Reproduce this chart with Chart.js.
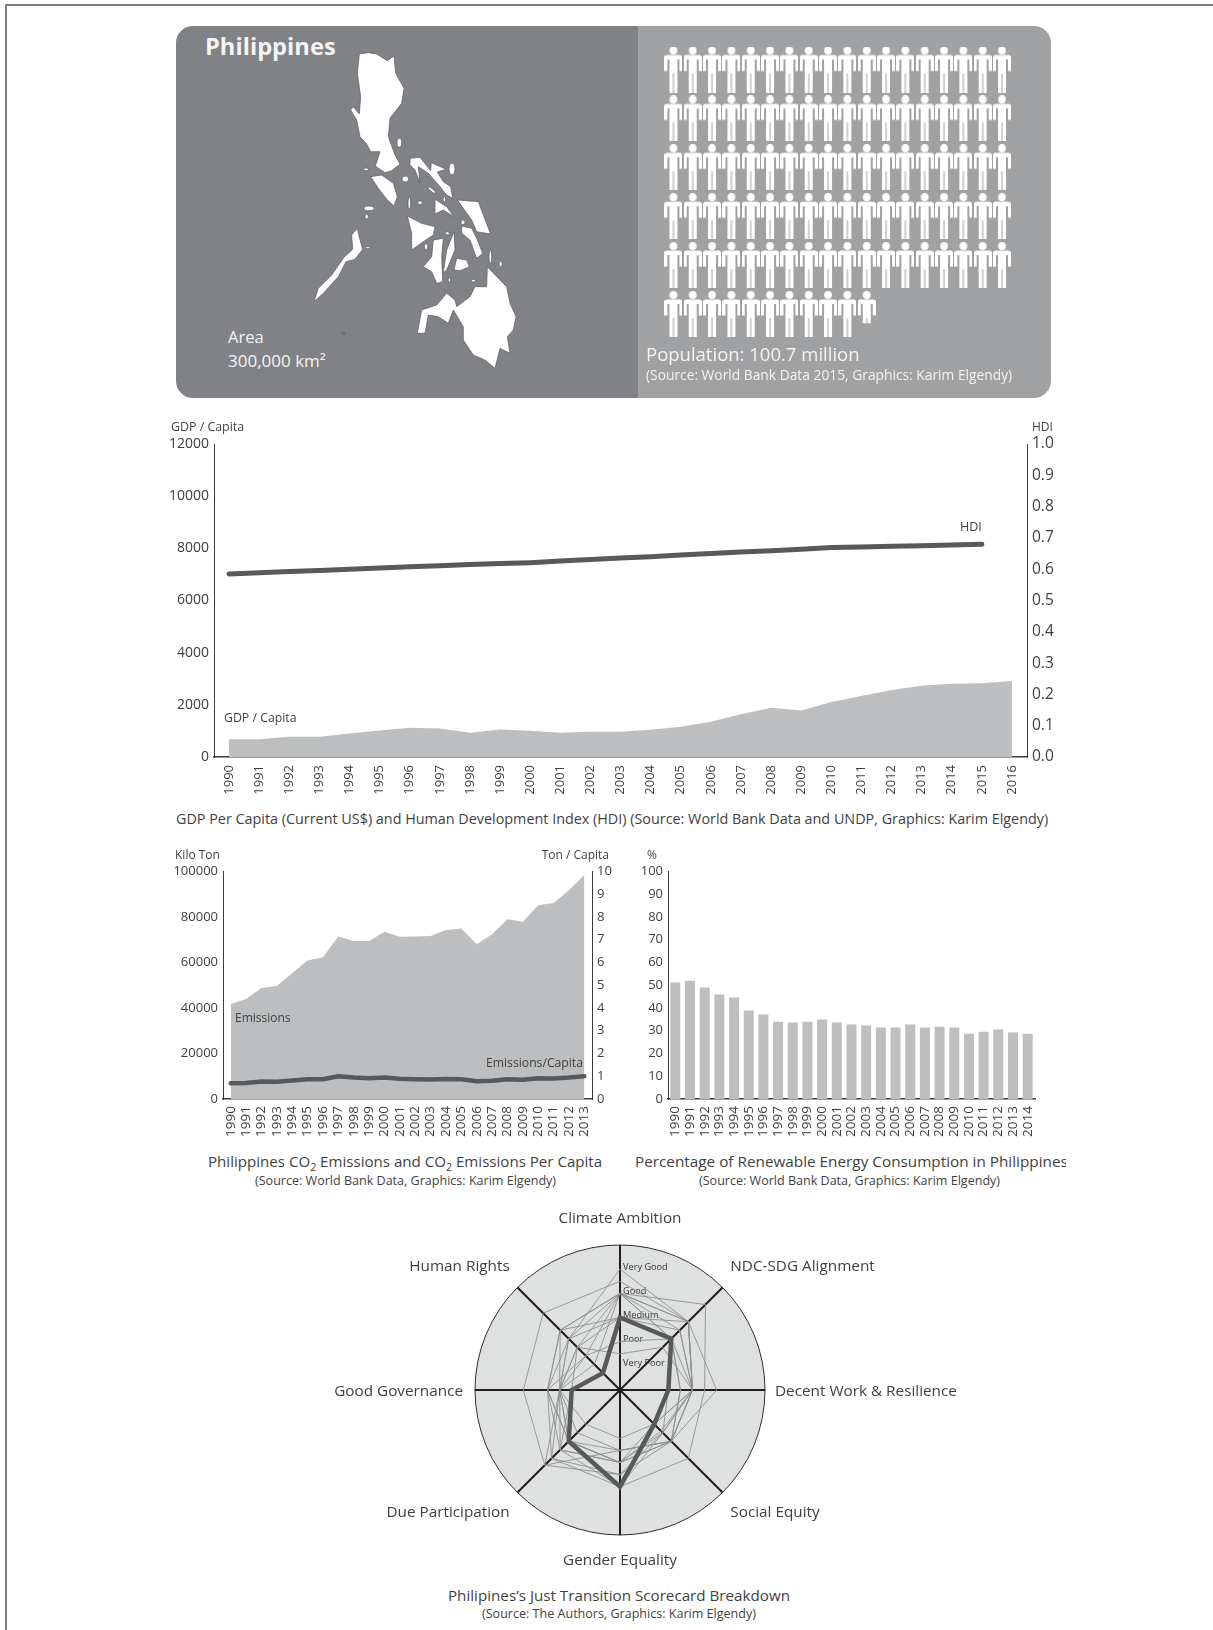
<!DOCTYPE html>
<html><head><meta charset="utf-8">
<script src="https://cdn.jsdelivr.net/npm/chart.js@4/dist/chart.umd.min.js"></script>
<style>
html,body{margin:0;padding:0;background:#fff}
#page{position:relative;width:1213px;height:1630px;overflow:hidden;font-family:"Open Sans",sans-serif;color:#3f3f3f}
.t{position:absolute;white-space:nowrap;line-height:1}
.c{transform:translateX(-50%)}
.r{transform:translateX(-100%)}
.box{position:absolute}
canvas{display:block}
#frameT{position:absolute;left:5px;top:4px;width:1208px;height:1.5px;background:#7d7d7d}
#frameL{position:absolute;left:5px;top:4px;width:1.5px;height:1626px;background:#7d7d7d}
#pL{position:absolute;left:176px;top:26px;width:462px;height:372px;background:#808285;border-radius:17px 0 0 17px}
#pR{position:absolute;left:638px;top:26px;width:413px;height:372px;background:#a0a1a3;border-radius:0 17px 17px 0}
.w{color:#f4f4f4}
sub{font-size:.7em;line-height:0}
</style></head><body><div id="page">
<div id="frameT"></div><div id="frameL"></div>
<div id="pL"></div><div id="pR"></div>
<svg style="position:absolute;left:300px;top:40px" width="220" height="340" viewBox="0 0 660 1020">
<g fill="#fff" stroke="#55565a" stroke-width="2" stroke-linejoin="round">
<path d="M178,42 L205,38 L230,42 L262,62 L282,48 L287,100 L312,145 L305,190 L270,235 L265,290 L285,345 L300,372 L275,392 L255,398 L226,378 L240,335 L212,335 L200,312 L180,290 L170,240 L152,210 L160,200 L178,222 L182,170 L172,100 Z"/>
<path d="M330,355 L360,352 L392,392 L394,368 L438,388 L412,396 L430,425 L452,440 L458,475 L440,465 L420,440 L385,400 L355,380 L360,428 L345,390 L330,375 Z"/>
<path d="M212,410 L245,405 L280,430 L292,470 L282,498 L262,480 L235,445 Z"/>
<path d="M472,480 L535,485 L548,520 L572,582 L530,575 L515,540 L490,505 Z"/>
<path d="M485,558 L515,565 L530,595 L548,640 L530,655 L510,600 L485,580 Z"/>
<path d="M322,528 L365,550 L405,560 L400,585 L370,605 L335,630 L335,580 Z"/>
<path d="M400,600 L430,595 L425,650 L428,725 L410,730 L395,695 L370,680 L395,650 Z"/>
<path d="M462,575 L465,630 L440,690 L430,698 L440,630 Z"/>
<path d="M470,655 L500,660 L508,680 L480,692 L462,690 Z"/>
<path d="M405,478 L440,500 L462,530 L430,510 L405,522 Z"/>
<path d="M172,565 L180,600 L188,628 L165,658 L138,665 L115,710 L70,760 L42,785 L55,745 L95,705 L132,652 L158,628 L155,585 Z"/>
<path d="M562,680 L595,715 L620,740 L630,790 L648,830 L640,870 L622,890 L630,940 L600,925 L585,985 L555,960 L520,945 L490,900 L490,860 L460,810 L445,850 L415,830 L385,825 L375,880 L352,880 L365,810 L410,795 L440,760 L465,780 L470,800 L510,770 L525,740 L560,740 Z"/>
<ellipse cx="316" cy="417" rx="10" ry="9"/><ellipse cx="456" cy="387" rx="9" ry="18"/>
<ellipse cx="198" cy="388" rx="7" ry="4"/><ellipse cx="298" cy="308" rx="7" ry="13"/>
<ellipse cx="395" cy="450" rx="14" ry="4" transform="rotate(40 395 450)"/><ellipse cx="360" cy="488" rx="7" ry="6"/>
<ellipse cx="328" cy="490" rx="4" ry="18"/><ellipse cx="207" cy="505" rx="15" ry="7"/>
<ellipse cx="200" cy="530" rx="5" ry="7"/><ellipse cx="442" cy="580" rx="6" ry="5"/>
<ellipse cx="378" cy="620" rx="5" ry="9"/><ellipse cx="489" cy="547" rx="6" ry="7"/>
<ellipse cx="571" cy="650" rx="4" ry="20"/><ellipse cx="602" cy="672" rx="5" ry="8"/>
<ellipse cx="448" cy="720" rx="4" ry="6"/><ellipse cx="520" cy="722" rx="6" ry="4"/>
<ellipse cx="203" cy="623" rx="7" ry="3"/><ellipse cx="433" cy="478" rx="4" ry="8"/>
<ellipse cx="131" cy="880" rx="4" ry="3" fill="none"/>
</g></svg>
<div class="box" style="left:638px;top:26px;width:413px;height:330px"><canvas id="cPeople" width="413" height="330"></canvas></div>
<div class="t w" style="left:205px;top:35px;font-size:23.7px;font-weight:700">Philippines</div>
<div class="t w" style="left:228px;top:329px;font-size:16.5px">Area</div>
<div class="t w" style="left:228px;top:352px;font-size:17px">300,000 km²</div>
<div class="t w" style="left:646px;top:345px;font-size:18.5px">Population: 100.7 million</div>
<div class="t w" style="left:646px;top:368px;font-size:13.8px">(Source: World Bank Data 2015, Graphics: Karim Elgendy)</div>

<div class="box" style="left:150px;top:430px;width:920px;height:370px"><canvas id="c1" width="920" height="370"></canvas></div>
<div class="t" style="left:171px;top:421px;font-size:12.4px">GDP / Capita</div>
<div class="t" style="left:1032px;top:421px;font-size:12px">HDI</div>
<div class="t" style="left:960px;top:521px;font-size:12.5px">HDI</div>
<div class="t" style="left:224px;top:712px;font-size:12.3px">GDP / Capita</div>
<div class="t" style="left:176px;top:812px;font-size:14.36px">GDP Per Capita (Current US$) and Human Development Index (HDI) (Source: World Bank Data and UNDP, Graphics: Karim Elgendy)</div>

<div class="box" style="left:150px;top:860px;width:480px;height:285px"><canvas id="c2" width="480" height="285"></canvas></div>
<div class="t" style="left:175px;top:849px;font-size:12px">Kilo Ton</div>
<div class="t r" style="left:609px;top:849px;font-size:12px">Ton / Capita</div>
<div class="t" style="left:235px;top:1012px;font-size:12px">Emissions</div>
<div class="t r" style="left:583px;top:1057px;font-size:12.2px">Emissions/Capita</div>
<div class="t" style="left:208px;top:1154px;font-size:15.1px">Philippines CO<sub>2</sub> Emissions and CO<sub>2</sub> Emissions Per Capita</div>
<div class="t" style="left:255px;top:1175px;font-size:12.55px">(Source: World Bank Data, Graphics: Karim Elgendy)</div>

<div class="box" style="left:630px;top:860px;width:420px;height:285px"><canvas id="c3" width="420" height="285"></canvas></div>
<div class="t" style="left:647px;top:849px;font-size:12px">%</div>
<div class="box" style="left:620px;top:1150px;width:446px;height:26px;overflow:hidden"><div class="t" style="left:15px;top:4px;font-size:15.3px">Percentage of Renewable Energy Consumption in Philippines</div></div>
<div class="t" style="left:699px;top:1175px;font-size:12.55px">(Source: World Bank Data, Graphics: Karim Elgendy)</div>

<div class="box" style="left:260px;top:1200px;width:720px;height:380px"><canvas id="c4" width="720" height="380"></canvas></div>
<div class="t c" style="left:619px;top:1588px;font-size:15.2px">Philipines’s Just Transition Scorecard Breakdown</div>
<div class="t c" style="left:619px;top:1608px;font-size:12.55px">(Source: The Authors, Graphics: Karim Elgendy)</div>
</div>
<script>
// ---- data ----
const populationMillions = 100.7;
const figuresPerRow = 18;

const gdpYears = ['1990','1991','1992','1993','1994','1995','1996','1997','1998','1999','2000','2001','2002','2003','2004','2005','2006','2007','2008','2009','2010','2011','2012','2013','2014','2015','2016'];
const gdpPerCapita = [680,680,780,780,900,1020,1120,1090,930,1050,1010,930,970,970,1040,1160,1350,1640,1890,1780,2110,2340,2570,2730,2810,2830,2910];
const hdiValues = [.585,.589,.593,.596,.600,.604,.608,.611,.615,.618,.621,.626,.631,.636,.640,.645,.650,.655,.659,.664,.669,.671,.673,.675,.677,.680,null];

const co2Years = ['1990','1991','1992','1993','1994','1995','1996','1997','1998','1999','2000','2001','2002','2003','2004','2005','2006','2007','2008','2009','2010','2011','2012','2013'];
const co2Emissions = [41800,44000,48800,49700,55300,60900,62300,71400,69500,69400,73500,71300,71400,71600,74300,74900,68000,72400,79000,77900,85200,86100,91800,98500];
const co2PerCapita = [.69,.70,.77,.76,.81,.87,.87,1.0,.94,.91,.95,.89,.87,.86,.88,.87,.78,.80,.87,.85,.91,.90,.94,1.0];

const renewableYears = ['1990','1991','1992','1993','1994','1995','1996','1997','1998','1999','2000','2001','2002','2003','2004','2005','2006','2007','2008','2009','2010','2011','2012','2013','2014'];
const renewableShare = [51.2,52,49,45.9,44.6,38.9,37.1,34,33.6,34,34.9,33.6,32.7,32.3,31.4,31.4,32.7,31.4,31.8,31.4,28.7,29.6,30.5,29.2,28.7];

const scoreAxes = ['Climate Ambition','NDC-SDG Alignment','Decent Work & Resilience','Social Equity','Gender Equality','Due Participation','Good Governance','Human Rights'];
const scoreLevels = ['Very Poor','Poor','Medium','Good','Very Good'];
const philippinesScores = [3,3,2,2,4,3,2,1];
const otherScores = [
 [5,4,3,3,3,3,2.5,3],
 [4.5,4,3,3,3.5,4.4,4,4.5],
 [4,5,3.5,4,4,4,3,3.5],
 [4,4,4,3,3,3,3,3],
 [4,3.5,3,2.5,3.5,4,2.5,3.5],
 [4,3,2.5,3,2.5,4.4,2.5,2.5],
 [3,4,3,2,3,3,2.5,2.5],
 [2,3,2,2.5,4,3.5,3,2],
 [3,3,2.5,3,2.5,2.5,2.5,3],
 [4,3,3,2,2,2,2.5,1.5],
 [1.5,2.5,3,2.4,3,3.5,2,2.5],
 [3,3.5,3,3,2.5,3,3,3.5],
 [4,4,3,2.5,3,3.5,2.5,2]
];

// ---- shared styling ----
const FONT = '"Open Sans", sans-serif';
const TXT = '#3f3f3f', AXIS = '#3a3a3a', AREA = '#bcbec0', DARK = '#58595b';
Chart.defaults.font.family = FONT;
Chart.defaults.color = TXT;
Chart.defaults.animation = false;
Chart.defaults.responsive = false;
Chart.defaults.plugins.legend.display = false;
Chart.defaults.plugins.tooltip.enabled = false;

function yAxis(pos, min, max, step, width, size, pad, fmt) {
  return {
    position: pos, min, max, beginAtZero: true,
    afterFit: s => { s.width = width; s.paddingTop = 0; s.paddingBottom = 0; },
    grid: {display: false, drawTicks: false},
    border: {display: true, color: AXIS, width: 1},
    ticks: {stepSize: step, autoSkip: false, padding: pad, font: {size}, color: TXT, callback: fmt || (v => String(v))}
  };
}
function xAxis(height, size, pad) {
  return {
    offset: true,
    afterFit: s => { s.height = height; s.paddingLeft = 0; s.paddingRight = 0; },
    grid: {display: false, drawTicks: false},
    border: {display: true, color: AXIS, width: 1.5},
    ticks: {autoSkip: false, minRotation: 90, maxRotation: 90, padding: pad, font: {size}, color: TXT}
  };
}

// ---- population pictogram: one figure per million ----
function figure(frac) {
  const W = 18, H = 46, cv = document.createElement('canvas');
  cv.width = W; cv.height = H;
  const g = cv.getContext('2d');
  g.save();
  g.beginPath(); g.rect(0, 0, W, H * frac); g.clip();
  g.fillStyle = '#fff';
  g.beginPath(); g.arc(9, 4, 3.9, 0, Math.PI * 2); g.fill();
  g.beginPath();
  g.moveTo(2.5, 8.5); g.lineTo(15.5, 8.5); g.quadraticCurveTo(18, 8.5, 18, 11);
  g.lineTo(18, 24.5); g.lineTo(15, 24.5); g.lineTo(15, 13); g.lineTo(13, 13);
  g.lineTo(13, 46); g.lineTo(9.5, 46); g.lineTo(9.5, 27); g.lineTo(8.5, 27); g.lineTo(8.5, 46);
  g.lineTo(5, 46); g.lineTo(5, 13); g.lineTo(3, 13); g.lineTo(3, 24.5); g.lineTo(0, 24.5);
  g.lineTo(0, 11); g.quadraticCurveTo(0, 8.5, 2.5, 8.5);
  g.fill();
  g.restore();
  return cv;
}
const wholeFigures = Math.floor(populationMillions);
const partFraction = populationMillions - wholeFigures;
const figureCount = Math.ceil(populationMillions);
const peoplePts = [], peopleStyles = [];
const fullFig = figure(1), partFig = figure(partFraction);
for (let i = 0; i < figureCount; i++) {
  peoplePts.push({x: i % figuresPerRow, y: Math.floor(i / figuresPerRow)});
  peopleStyles.push(i < wholeFigures ? fullFig : partFig);
}
new Chart('cPeople', {
  type: 'scatter',
  data: {datasets: [{data: peoplePts, pointStyle: peopleStyles, pointRadius: 9, clip: false}]},
  options: {
    layout: {padding: {left: 35.4, right: 49, top: 43.5, bottom: 42}},
    scales: {
      x: {display: false, min: 0, max: figuresPerRow - 1},
      y: {display: false, min: 0, max: 5, reverse: true}
    }
  }
});

// ---- GDP + HDI ----
new Chart('c1', {
  type: 'line',
  data: {labels: gdpYears, datasets: [
    {data: hdiValues, yAxisID: 'y1', borderColor: DARK, borderWidth: 5, pointRadius: 0, borderCapStyle: 'round', tension: 0, fill: false},
    {data: gdpPerCapita, yAxisID: 'y', backgroundColor: AREA, borderWidth: 0, pointRadius: 0, tension: 0, fill: 'origin'}
  ]},
  options: {
    layout: {padding: {top: 14, left: 0, right: 0, bottom: 0}},
    scales: {
      x: xAxis(43, 13, 8),
      y: yAxis('left', 0, 12000, 2000, 64, 14, 5),
      y1: yAxis('right', 0, 1, .1, 43, 15.5, 5, v => v.toFixed(1))
    }
  }
});

// ---- CO2 ----
new Chart('c2', {
  type: 'line',
  data: {labels: co2Years, datasets: [
    {data: co2PerCapita, yAxisID: 'y1', borderColor: DARK, borderWidth: 4.5, pointRadius: 0, borderCapStyle: 'round', tension: 0, fill: false},
    {data: co2Emissions, yAxisID: 'y', backgroundColor: AREA, borderWidth: 0, pointRadius: 0, tension: 0, fill: 'origin'}
  ]},
  options: {
    layout: {padding: {top: 11.5, left: 0, right: 0, bottom: 0}},
    scales: {
      x: xAxis(46, 13.5, 7),
      y: yAxis('left', 0, 100000, 20000, 73, 13, 5),
      y1: yAxis('right', 0, 10, 1, 38, 13, 5)
    }
  }
});

// ---- renewable share ----
new Chart('c3', {
  type: 'bar',
  data: {labels: renewableYears, datasets: [
    {data: renewableShare, backgroundColor: AREA, barPercentage: .68, categoryPercentage: 1}
  ]},
  options: {
    layout: {padding: {top: 11.5, left: 0, right: 15, bottom: 0}},
    scales: {
      x: xAxis(46, 13.5, 7),
      y: yAxis('left', 0, 100, 10, 38, 13, 5)
    }
  }
});

// ---- scorecard radar ----
const radarDecor = {
  id: 'radarDecor',
  beforeDatasetsDraw(chart) {
    const r = chart.scales.r, g = chart.ctx;
    g.save();
    g.font = '9.2px ' + FONT; g.fillStyle = '#333';
    g.textAlign = 'left'; g.textBaseline = 'middle';
    scoreLevels.forEach((t, i) => {
      g.fillText(t, r.xCenter + 3, r.yCenter - r.getDistanceFromCenterForValue(i + 1) - 2);
    });
    g.restore();
  },
  afterDatasetsDraw(chart) {
    const r = chart.scales.r, g = chart.ctx;
    g.save();
    g.font = '15.3px ' + FONT; g.fillStyle = TXT; g.textBaseline = 'middle';
    const R = r.drawingArea;
    scoreAxes.forEach((t, i) => {
      const a = r.getIndexAngle(i) - Math.PI / 2;
      const c = Math.cos(a), s = Math.sin(a);
      const vertical = Math.abs(c) < .1, horizontal = Math.abs(s) < .1;
      g.textAlign = vertical ? 'center' : (c > 0 ? 'left' : 'right');
      let x, y;
      if (vertical) { x = r.xCenter; y = r.yCenter + (s < 0 ? -(R + 26) : R + 26); }
      else if (horizontal) { x = r.xCenter + c * (R + (c > 0 ? 10 : 12)); y = r.yCenter + 2; }
      else { x = r.xCenter + c * (R + 11); y = r.yCenter + (s < 0 ? -123 : 123); }
      g.fillText(t, x, y);
    });
    g.restore();
  }
};
const circleBack = {
  id: 'circleBack',
  beforeDraw(chart) {
    const r = chart.scales.r, g = chart.ctx;
    g.save();
    g.fillStyle = '#dfe0e0';
    g.beginPath(); g.arc(r.xCenter, r.yCenter, r.drawingArea, 0, Math.PI * 2); g.fill();
    g.restore();
  }
};
const radarSets = [{data: philippinesScores, borderColor: DARK, borderWidth: 4.5, pointRadius: 0, fill: false, order: 0}]
  .concat(otherScores.map(d => ({data: d, borderColor: '#8f9092', borderWidth: .9, pointRadius: 0, fill: false, order: 1})));
new Chart('c4', {
  type: 'radar',
  data: {labels: scoreAxes, datasets: radarSets},
  options: {
    layout: {padding: {left: 215, right: 215, top: 45, bottom: 45}},
    elements: {line: {tension: 0, borderJoinStyle: 'miter'}},
    scales: {
      r: {
        min: 0, max: 6, startAngle: 0,
        pointLabels: {display: false},
        ticks: {display: false, stepSize: 6},
        grid: {circular: true, color: '#2e2e2e', lineWidth: 1},
        angleLines: {display: true, color: '#1e1e1e', lineWidth: 2}
      }
    }
  },
  plugins: [circleBack, radarDecor]
});
</script></body></html>
